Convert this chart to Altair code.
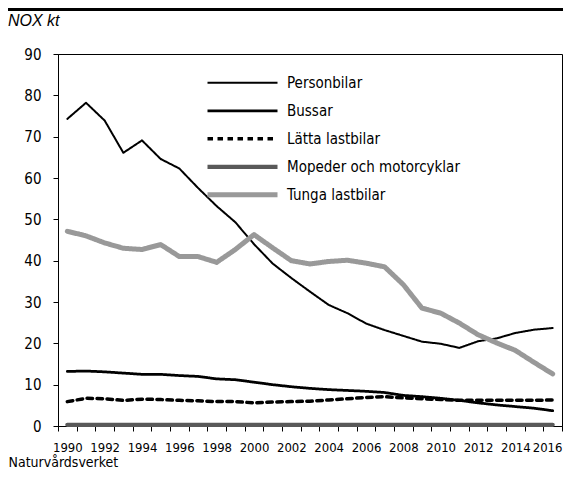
import altair as alt
import pandas as pd

years = list(range(1990, 2017))
series_names = ["Personbilar", "Bussar", "Lätta lastbilar",
                "Mopeder och motorcyklar", "Tunga lastbilar"]

personbilar = [74.3, 78.2, 73.9, 66.1, 69.1, 64.6, 62.3, 57.6, 53.2, 49.3,
               44.0, 39.3, 35.8, 32.5, 29.3, 27.3, 24.8, 23.2, 21.8, 20.4,
               19.9, 18.9, 20.5, 21.2, 22.5, 23.3, 23.7]
bussar = [13.2, 13.3, 13.1, 12.8, 12.5, 12.5, 12.2, 12.0, 11.4, 11.2,
          10.6, 10.0, 9.5, 9.1, 8.8, 8.6, 8.4, 8.1, 7.4, 7.1,
          6.7, 6.2, 5.6, 5.1, 4.7, 4.3, 3.7]
latta = [5.9, 6.7, 6.6, 6.2, 6.5, 6.4, 6.2, 6.1, 5.9, 5.9,
         5.6, 5.8, 5.9, 6.0, 6.3, 6.6, 6.9, 7.1, 6.8, 6.6,
         6.4, 6.2, 6.2, 6.2, 6.2, 6.2, 6.3]
mopeder = [0.3, 0.3, 0.3, 0.3, 0.3, 0.3, 0.3, 0.3, 0.3, 0.3,
           0.3, 0.3, 0.3, 0.3, 0.3, 0.3, 0.3, 0.3, 0.3, 0.3,
           0.3, 0.3, 0.3, 0.3, 0.3, 0.3, 0.3]
tunga = [47.1, 46.0, 44.3, 43.0, 42.7, 43.9, 41.0, 41.0, 39.6, 42.7,
         46.3, 43.1, 40.0, 39.2, 39.8, 40.1, 39.4, 38.5, 34.2, 28.5,
         27.3, 24.9, 22.1, 20.1, 18.3, 15.4, 12.6]

y_ticks = [0, 10, 20, 30, 40, 50, 60, 70, 80, 90]
x_tick_values = [1989.5 + 0.5 * i for i in range(55)]

colors = ["#000000", "#000000", "#000000", "#595959", "#999999"]
widths = [2, 5, 2, 5.5, 5.5]
dashes = [[1, 0], [1, 0], [5.5, 4.5], [1, 0], [1, 0]]

FONT = "DejaVu Sans Condensed, sans-serif"

rows = []
for name, vals in zip(series_names, [personbilar, bussar, latta, mopeder, tunga]):
    for yr, v in zip(years, vals):
        rows.append({"year": yr, "value": v, "series": name})
df = pd.DataFrame(rows)

legend = alt.Legend(title=None, orient="none", legendX=147, legendY=15,
                    symbolType="stroke", symbolSize=4900, clipHeight=27.5,
                    rowPadding=0, padding=0, labelOffset=7,
                    labelFont=FONT, labelFontSize=15, labelColor="#000",
                    labelLimit=300)

label_expr = ("datum.value == 2016.5 ? '2016' : "
              "(datum.value % 2 == 0 && datum.value < 2016 ? format(datum.value, 'd') : '')")

lines = alt.Chart(df).mark_line(strokeCap="round", strokeJoin="round").encode(
    x=alt.X("year:Q",
            scale=alt.Scale(domain=[1989.5, 2016.5], nice=False, zero=False),
            axis=alt.Axis(values=x_tick_values,
                          labelExpr=label_expr,
                          labelOverlap=False, labelFlush=False,
                          labelAlign={"condition": {"test": "datum.value == 2016.5", "value": "right"},
                                      "value": "center"},
                          tickOpacity={"condition": {"test": "datum.value % 1 == 0", "value": 0},
                                       "value": 1},
                          tickSize=5, labelPadding=10, grid=False, labelFontSize=13,
                          title="Naturvårdsverket", titleAnchor="start", titleAlign="left",
                          titleX=-50, titleY=40, titleBaseline="alphabetic",
                          titleFont=FONT, titleFontSize=14, titleFontWeight="normal",
                          titleColor="#000")),
    y=alt.Y("value:Q", scale=alt.Scale(domain=[0, 90], nice=False),
            axis=alt.Axis(values=y_ticks, title=None, grid=False, tickSize=5,
                          labelPadding=12, labelFontSize=15)),
    color=alt.Color("series:N", scale=alt.Scale(domain=series_names, range=colors),
                    legend=legend),
    strokeDash=alt.StrokeDash("series:N", scale=alt.Scale(domain=series_names, range=dashes),
                              legend=legend),
    strokeWidth=alt.StrokeWidth("series:N", scale=alt.Scale(domain=series_names, range=widths),
                                legend=legend),
)

top_rule = alt.Chart(pd.DataFrame({"k": [0]})).mark_rule(color="#000", strokeWidth=3).encode(
    x=alt.value(-50), x2=alt.value(505), y=alt.value(-44.5)
)

unit_title = alt.Chart(pd.DataFrame({"k": [0]})).mark_text(
    text="NOX kt", align="left", baseline="alphabetic",
    font="Liberation Sans, Arial, sans-serif", fontSize=16, fontStyle="italic",
    color="#000"
).encode(x=alt.value(-50), y=alt.value(-28))

chart = alt.layer(lines, top_rule, unit_title).properties(
    width=504, height=372,
    padding={"left": 50, "top": 46, "right": 1, "bottom": 44},
    autosize=alt.AutoSizeParams(type="none"),
).configure_view(stroke="#000", strokeWidth=1).configure_axis(
    domainColor="#000", tickColor="#000", labelColor="#000",
    labelFont=FONT, domainWidth=1, tickWidth=1
)

chart.save("out.html", embed_options={"renderer": "svg", "actions": False})
